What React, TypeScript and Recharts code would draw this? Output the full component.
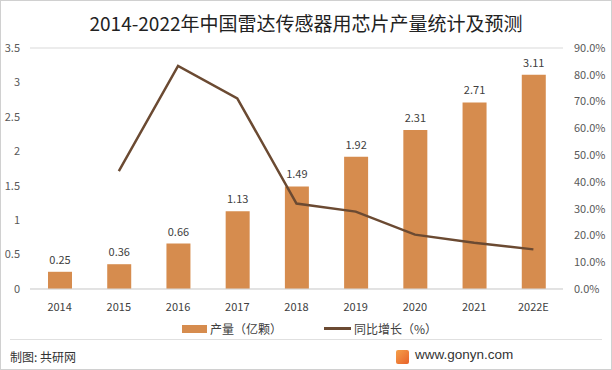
import { ComposedChart, Bar, Line, XAxis, YAxis, CartesianGrid, LabelList } from 'recharts';

const years = ['2014', '2015', '2016', '2017', '2018', '2019', '2020', '2021', '2022E'];
const output = [0.25, 0.36, 0.66, 1.13, 1.49, 1.92, 2.31, 2.71, 3.11];
const growth = [null, 44.0, 83.3, 71.2, 31.9, 28.9, 20.3, 17.3, 14.8];
const leftTicks = [0, 0.5, 1, 1.5, 2, 2.5, 3, 3.5];
const rightTicks = [0, 10, 20, 30, 40, 50, 60, 70, 80, 90];

const data = years.map((y, i) => ({ year: y, output: output[i], growth: growth[i] }));

const font = '"Noto Sans CJK SC", "Noto Sans", sans-serif';
const barColor = '#D68C4E';
const lineColor = '#6B4A32';

export default function App() {
  return (
    <div style={{ position: 'absolute', left: 0, top: 0, width: 612, height: 370, background: '#fff', fontFamily: font, overflow: 'hidden' }}>
      <div style={{ position: 'absolute', left: 0, top: 0, width: 610, height: 368, border: '1px solid #d0d0d0' }} />
      <div style={{ position: 'absolute', left: 0, top: 9, width: 612, textAlign: 'center', fontSize: 19, color: '#222' }}>
        2014-2022年中国雷达传感器用芯片产量统计及预测
      </div>
      <div style={{ position: 'absolute', left: 0, top: 0 }}>
        <ComposedChart width={612} height={320} data={data} margin={{ top: 48, right: 0, left: 0, bottom: 0 }}>
          <CartesianGrid vertical={false} stroke="#d9d9d9" />
          <XAxis
            dataKey="year"
            axisLine={{ stroke: '#d9d9d9' }}
            tickLine={false}
            tick={{ fill: '#404040', fontSize: 11, fontFamily: font }}
            height={31}
            tickMargin={8}
          />
          <YAxis
            yAxisId="left"
            domain={[0, 3.5]}
            ticks={leftTicks}
            axisLine={false}
            tickLine={false}
            width={30}
            tick={{ fill: '#595959', fontSize: 11, fontFamily: font, dx: -2 }}
            interval={0}
          />
          <YAxis
            yAxisId="right"
            orientation="right"
            domain={[0, 90]}
            ticks={rightTicks}
            axisLine={false}
            tickLine={false}
            width={49}
            tickFormatter={(v: number) => v.toFixed(1) + '%'}
            tick={{ fill: '#595959', fontSize: 11, fontFamily: font, dx: 3 }}
            interval={0}
          />
          <Bar yAxisId="left" dataKey="output" fill={barColor} barSize={24} isAnimationActive={false}>
            <LabelList dataKey="output" position="top" offset={8} style={{ fill: '#404040', fontSize: 11, fontFamily: font }} />
          </Bar>
          <Line
            yAxisId="right"
            dataKey="growth"
            stroke={lineColor}
            strokeWidth={2.5}
            dot={false}
            activeDot={false}
            type="linear"
            isAnimationActive={false}
          />
        </ComposedChart>
      </div>
      <div style={{ position: 'absolute', top: 320, left: 182, display: 'flex', alignItems: 'center', fontSize: 12, color: '#404040' }}>
        <span style={{ display: 'inline-block', width: 25, height: 8, background: barColor, marginRight: 3 }} />
        <span>产量（亿颗）</span>
        <span style={{ display: 'inline-block', width: 27, height: 3, background: lineColor, marginLeft: 42, marginRight: 3 }} />
        <span>同比增长（%）</span>
      </div>
      <div style={{ position: 'absolute', left: 10, top: 339, width: 592, height: 1, background: '#e0e0e0' }} />
      <div style={{ position: 'absolute', left: 10, top: 348, fontSize: 12, color: '#333' }}>制图: 共研网</div>
      <div style={{ position: 'absolute', left: 396, top: 350, width: 13, height: 14, background: 'linear-gradient(135deg, #F5A04A, #E8622A)', borderRadius: 2 }} />
      <div style={{ position: 'absolute', left: 415, top: 347, fontSize: 13.5, color: '#333', fontFamily: '"Liberation Sans", Arial, sans-serif' }}>www.gonyn.com</div>
    </div>
  );
}
